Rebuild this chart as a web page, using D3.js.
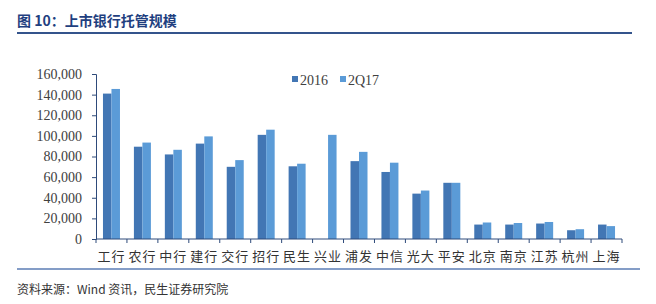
<!DOCTYPE html>
<html>
<head>
<meta charset="utf-8">
<script src="https://cdn.jsdelivr.net/npm/d3@7"></script>
<style>
  body { margin: 0; background: #fff; }
  svg { display: block; }
</style>
</head>
<body>
<div id="chart"></div>
<script>
// bank custody scale, two periods
var banks = ["工行", "农行", "中行", "建行", "交行", "招行", "民生", "兴业", "浦发",
             "中信", "光大", "平安", "北京", "南京", "江苏", "杭州", "上海"];
var v2016 = [141000, 89500, 82000, 92500, 70000, 101000, 70500, null, 75500,
             65000, 44000, 54500, 14000, 14000, 15000, 8500, 14000];
var v2Q17 = [145500, 93500, 86500, 99500, 76500, 106000, 73000, 101000, 84500,
             74000, 47000, 54500, 16000, 15500, 16500, 9500, 12500];
var seriesNames = ["2016", "2Q17"];
var yTicks = [0, 20000, 40000, 60000, 80000, 100000, 120000, 140000, 160000];

var width = 656, height = 304;
var margin = { top: 74, left: 96, right: 34, bottom: 65 };
var colors = ["#4276b4", "#5b9bd7"];

var svg = d3.select("#chart").append("svg")
    .attr("width", width)
    .attr("height", height);

// title + rule
svg.append("text")
    .attr("x", 17)
    .attr("y", 26)
    .style("font-family", "'Noto Sans CJK SC', sans-serif")
    .style("font-size", "14px")
    .style("font-weight", "bold")
    .attr("fill", "#1f3f80")
    .text("图 10：上市银行托管规模");
svg.append("line")
    .attr("x1", 17).attr("x2", 632)
    .attr("y1", 33).attr("y2", 33)
    .attr("stroke", "#34548c")
    .attr("stroke-width", 2);

var x = d3.scaleBand()
    .domain(banks)
    .range([margin.left, width - margin.right]);

var x1 = d3.scaleBand()
    .domain(seriesNames)
    .range([0, 17])
    .padding(0);

var y = d3.scaleLinear()
    .domain([0, 160000])
    .range([height - margin.bottom, margin.top]);

// bars
var data = [v2016, v2Q17];
data.forEach(function (vals, s) {
    svg.append("g").selectAll("rect")
        .data(banks.map(function (b, i) { return { bank: b, v: vals[i] }; })
            .filter(function (d) { return d.v != null; }))
        .enter().append("rect")
        .attr("x", function (d) {
            return x(d.bank) + (x.bandwidth() - 17) / 2 + x1(seriesNames[s]);
        })
        .attr("width", x1.bandwidth())
        .attr("y", function (d) { return y(d.v); })
        .attr("height", function (d) { return y(0) - y(d.v); })
        .attr("fill", colors[s]);
});

// y axis
var yAxis = svg.append("g")
    .attr("transform", "translate(" + margin.left + ",0)")
    .call(d3.axisLeft(y).tickValues(yTicks).tickFormat(d3.format(",")).tickSize(4).tickPadding(10));
yAxis.select(".domain").attr("stroke", "#2e4a7a");
yAxis.selectAll(".tick line").attr("stroke", "#2e4a7a");
yAxis.selectAll("text")
    .style("font-family", "'Liberation Serif', serif")
    .style("font-size", "14px")
    .attr("fill", "#404040");

// x axis with ticks on band edges
var xAxis = svg.append("g")
    .attr("transform", "translate(0," + y(0) + ")");
xAxis.append("line")
    .attr("x1", margin.left).attr("x2", width - margin.right)
    .attr("y1", 0).attr("y2", 0)
    .attr("stroke", "#2e4a7a");
xAxis.selectAll(".edge")
    .data(banks.concat(["_end"]))
    .enter().append("line")
    .attr("class", "edge")
    .attr("x1", function (d, i) { return margin.left + i * x.step(); })
    .attr("x2", function (d, i) { return margin.left + i * x.step(); })
    .attr("y1", 0).attr("y2", 4)
    .attr("stroke", "#2e4a7a");
xAxis.selectAll(".lbl")
    .data(banks)
    .enter().append("text")
    .attr("class", "lbl")
    .attr("x", function (d) { return x(d) + x.bandwidth() / 2; })
    .attr("y", 22)
    .attr("text-anchor", "middle")
    .style("font-family", "'Noto Sans CJK SC', sans-serif")
    .style("font-size", "13px")
    .style("letter-spacing", "1px")
    .attr("fill", "#333")
    .text(function (d) { return d; });

// legend
var legend = svg.append("g");
var legX = [292, 340];
seriesNames.forEach(function (name, i) {
    legend.append("rect")
        .attr("x", legX[i]).attr("y", 76)
        .attr("width", 6).attr("height", 6)
        .attr("fill", colors[i]);
    legend.append("text")
        .attr("x", legX[i] + 8).attr("y", 84.5)
        .style("font-family", "'Liberation Serif', serif")
        .style("font-size", "14px")
        .attr("fill", "#404040")
        .text(name);
});

// bottom rule + source
svg.append("line")
    .attr("x1", 17).attr("x2", 640)
    .attr("y1", 269).attr("y2", 269)
    .attr("stroke", "#5b7db5")
    .attr("stroke-width", 1.5);
svg.append("text")
    .attr("x", 17)
    .attr("y", 294)
    .style("font-family", "'Noto Sans CJK SC', sans-serif")
    .style("font-size", "12px")
    .attr("fill", "#333")
    .text("资料来源：Wind 资讯，民生证券研究院");
</script>
</body>
</html>
